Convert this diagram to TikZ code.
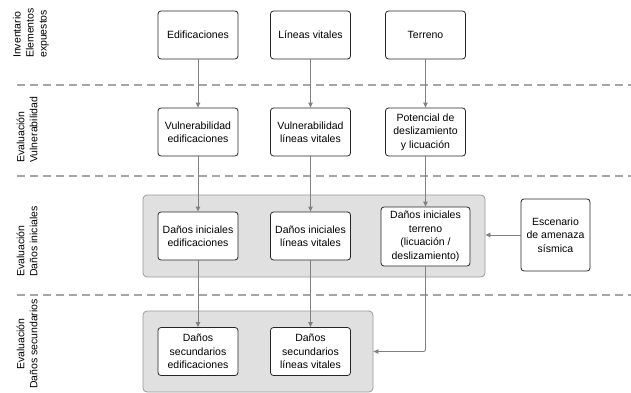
\documentclass[tikz,border=0pt]{standalone}
\usepackage{fontspec}
\setmainfont{Liberation Sans}
\usetikzlibrary{arrows.meta}
\begin{document}
\begin{tikzpicture}[x=1pt,y=-1pt,
  box/.style={draw=black!85, fill=white, rounded corners=3pt, line width=0.8pt, minimum width=80pt, minimum height=48pt, align=center, inner sep=1pt, font=\fontsize{10.5}{13.5}\selectfont},
  group/.style={draw=black!40, fill=black!12, rounded corners=4pt, line width=0.8pt},
  conn/.style={draw=black!50, line width=0.9pt, -{Triangle[length=5pt,width=4.5pt]}},
  sep/.style={draw=black!35, line width=1.2pt, dash pattern=on 8pt off 5pt},
  lab/.style={rotate=90, align=left, anchor=west, inner sep=0pt, font=\fontsize{10.5}{13}\selectfont}]
\useasboundingbox (0,0) rectangle (631,393);
% separators
\draw[sep] (17,85) -- (631,85);
\draw[sep] (17,176) -- (631,176);
\draw[sep] (17,295) -- (631,295);
% groups
\node[group, minimum width=342pt, minimum height=82pt] (g1) at (314,236) {};
\node[group, minimum width=230pt, minimum height=81pt] (g2) at (258,351.5) {};
% row labels
\node[lab] (l1) at (31,58) {Inventario\\Elementos\\expuestos};
\node[lab] (l2) at (27,163) {Evaluación\\Vulnerabilidad};
\node[lab] (l3) at (27,277) {Evaluación\\Daños iniciales};
\node[rotate=90, align=center, inner sep=0pt, font=\fontsize{10.5}{13}\selectfont] (l4) at (27,344) {Evaluación\\Daños secundarios};
% row 1
\node[box] (a1) at (198,35) {Edificaciones};
\node[box] (a2) at (310.5,35) {Líneas vitales};
\node[box] (a3) at (425.5,35) {Terreno};
% row 2
\node[box] (b1) at (198,132) {Vulnerabilidad\\edificaciones};
\node[box] (b2) at (310.5,132) {Vulnerabilidad\\líneas vitales};
\node[box] (b3) at (425.5,132) {Potencial de\\deslizamiento\\y licuación};
% row 3
\node[box] (c1) at (198,236) {Daños iniciales\\edificaciones};
\node[box] (c2) at (310.5,236) {Daños iniciales\\líneas vitales};
\node[box, minimum width=89pt, minimum height=59pt] (c3) at (425.5,236.5) {Daños iniciales\\terreno\\(licuación /\\deslizamiento)};
\node[box, minimum width=69pt, minimum height=72pt] (esc) at (555.5,235) {Escenario\\de amenaza\\sísmica};
% row 4
\node[box] (d1) at (198,351.5) {Daños\\secundarios\\edificaciones};
\node[box] (d2) at (310.5,351.5) {Daños\\secundarios\\líneas vitales};
% connectors
\draw[conn] (a1) -- (b1);
\draw[conn] (a2) -- (b2);
\draw[conn] (a3) -- (b3);
\draw[conn] (b1) -- (c1);
\draw[conn] (b2) -- (c2);
\draw[conn] (b3) -- (c3);
\draw[conn] (c1) -- (d1);
\draw[conn] (c2) -- (d2);
\draw[conn, rounded corners=2pt] (c3.south) |- (g2.east);
\draw[conn] (esc.west) -- (g1.east |- esc.west);
\end{tikzpicture}
\end{document}
